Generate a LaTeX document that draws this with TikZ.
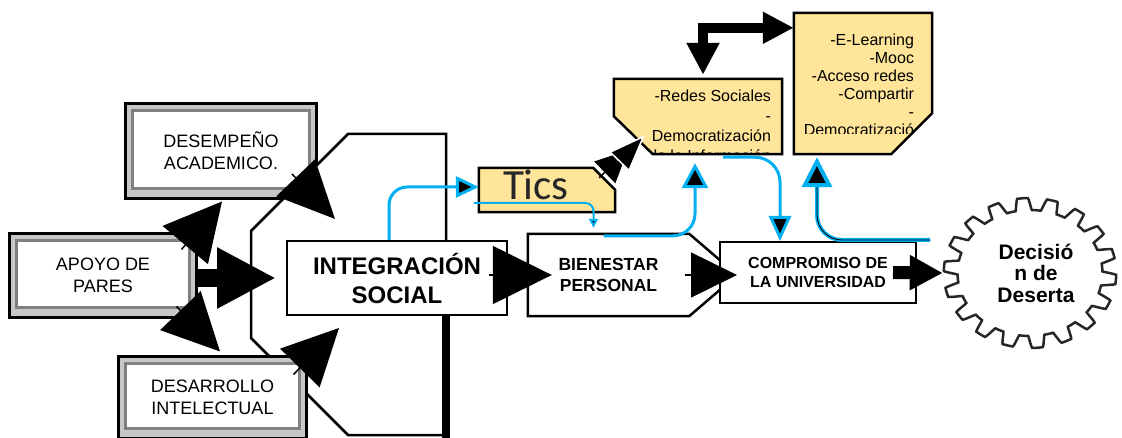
\documentclass[tikz,border=0pt]{standalone}
\usepackage{fontspec}
\setmainfont{Liberation Sans}
\newfontfamily\ticsfont{Carlito}
\usepackage{tikz}
\usetikzlibrary{arrows.meta}
\definecolor{notea}{RGB}{255,229,153}
\definecolor{flecha}{RGB}{0,176,240}
\tikzset{
	framed/.style={draw=black, line width=3pt, fill=black!22, inner sep=0pt, align=center,
		font=\fontsize{18}{22}\selectfont,
		path picture={\draw[black!50, line width=2.5pt, fill=white]
			([shift={(7pt,-7pt)}]path picture bounding box.north west) rectangle
			([shift={(-7pt,10pt)}]path picture bounding box.south east);}},
	plain/.style={draw=black, line width=2pt, fill=white, inner sep=0pt, align=center},
	nota/.style={line width=2.5pt, line join=miter},
	bigarrow/.style n args={3}{line width=#1, arrows={-Triangle[length=#2,width=#3]}},
	bluearrow/.style n args={3}{draw=flecha, line width=3pt, rounded corners=#1,
		arrows={-Triangle[length=#2,width=#3,fill=black]}},
}

\begin{document}
\begin{tikzpicture}[x=1pt, y=-1pt, declare function={gr(\t)=69+6*max(-1,min(1,2.5*sin(18*\t)));}]
	\useasboundingbox (0,0) rectangle (1122,438);
	\clip (0,0) rectangle (1122,438);
	% factores
	\node(DA)[framed, minimum width=191pt, minimum height=95pt] at (221,151) {DESEMPEÑO\\ACADEMICO.};
	\node(AP)[framed, minimum width=187pt, minimum height=84pt] at (103,275.5) {APOYO DE\\PARES};
	\draw[line width=2.5pt, fill=white, line join=miter] (348,134) -- (446,134) -- (446,435) -- (348,435) -- (251,338) -- (251,231) -- cycle;
	\node(DI)[framed, minimum width=188pt, minimum height=82pt] at (212.5,397.5) {DESARROLLO\\INTELECTUAL};
	\node(IS)[plain, minimum width=220pt, minimum height=74pt, font=\bfseries\fontsize{24}{29}\selectfont] at (397,278) {INTEGRACIÓN\\SOCIAL};
	\draw[line width=8pt] ([xshift=49pt]IS.south) -- ++(0,125);
	% centro
	\node(BP)[inner sep=0pt, minimum width=161pt, minimum height=82pt, align=center, font=\bfseries\fontsize{17.5}{20.5}\selectfont] at (608.5,275) {BIENESTAR\\PERSONAL};
	\draw[line width=2.5pt, line join=miter] (BP.north west) -- (BP.north east) -- ([xshift=48pt]BP.east) -- (BP.south east) -- (BP.south west) -- cycle;
	\node(CU)[plain, minimum width=196pt, minimum height=61pt, font=\bfseries\fontsize{16}{19}\selectfont] at (818,272.5) {COMPROMISO DE\\LA UNIVERSIDAD};
	% notas
	\node(TI)[minimum width=136pt, minimum height=44pt] at (547,190) {};
	\draw[nota, fill=notea, draw=black] (TI.north west) -- ([xshift=-22pt]TI.north east) -- ([yshift=-22pt]TI.north east) -- (TI.south east) -- (TI.south west) -- cycle;
	\node(TItxt)[anchor=base west, inner sep=0pt, text=black!85, font=\ticsfont\fontsize{43}{43}\selectfont] at ([shift={(24pt,-10pt)}]TI.west) {Tics};
	\node(RS)[minimum width=168pt, minimum height=75pt] at (698,116.5) {};
	\fill[notea] (RS.north west) -- (RS.north east) -- (RS.south east) -- ([xshift=39pt]RS.south west) -- ([yshift=38pt]RS.south west) -- cycle;
	\begin{scope}
		\clip (RS.north west) -- (RS.north east) -- (RS.south east) -- ([xshift=39pt]RS.south west) -- ([yshift=38pt]RS.south west) -- cycle;
		\node(RStxt)[anchor=north east, inner sep=0pt, align=right, font=\fontsize{16}{20}\selectfont] at ([shift={(-11pt,-11.3pt)}]RS.north east) {-Redes Sociales\\-\\Democratización\\de la Información};
	\end{scope}
	\draw[nota] (RS.north west) -- (RS.north east) -- (RS.south east) -- ([xshift=39pt]RS.south west) -- ([yshift=38pt]RS.south west) -- cycle;
	\node(EL)[minimum width=138pt, minimum height=141pt] at (863,83.5) {};
	\fill[notea] (EL.north west) -- (EL.north east) -- ([yshift=41pt]EL.south east) -- ([xshift=-41pt]EL.south east) -- (EL.south west) -- cycle;
	\begin{scope}
		\clip ([shift={(1.3pt,-1.3pt)}]EL.north west) rectangle ([shift={(-16pt,21pt)}]EL.south east);
		\node(ELtxt)[anchor=north east, inner sep=0pt, align=right, font=\fontsize{16}{18}\selectfont] at ([shift={(-18pt,-21.3pt)}]EL.north east) {-E-Learning\\-Mooc\\-Acceso redes\\-Compartir\\-\\Democratizació};
	\end{scope}
	\draw[nota] (EL.north west) -- (EL.north east) -- ([yshift=41pt]EL.south east) -- ([xshift=-41pt]EL.south east) -- (EL.south west) -- cycle;
	% decision
	\node(DD)[inner sep=0pt, minimum width=172pt, minimum height=150pt, align=center, font=\bfseries\fontsize{21}{21.5}\selectfont] at (1036,273) {Decisió\\n de\\Deserta};
	\draw[black!85, line width=2.5pt, shift={([xshift=-6pt]DD.center)}] plot[variable=\t, domain=0:360, samples=721] ({1.15*gr(\t)*cos(\t)}, {gr(\t)*sin(\t)}) -- cycle;
	% flechas negras
	\draw[bigarrow={18pt}{59pt}{57pt}] (AP.east |- IS.west) -- ([xshift=-10pt]IS.west);
	\draw[bigarrow={1.5pt}{57pt}{59pt}] ([shift={(-16.5pt,-17.5pt)}]AP.north east) -- ([shift={(1pt,-1.5pt)}]DA.south);
	\draw[bigarrow={1.5pt}{57pt}{56pt}] ([shift={(-21.5pt,12.5pt)}]AP.south east) -- ([shift={(7.5pt,3.5pt)}]DI.north);
	\draw[bigarrow={1.5pt}{57pt}{53pt}] ([shift={(-26pt,26pt)}]DA.south east) -- ([shift={(49pt,21pt)}]IS.north west);
	\draw[bigarrow={1.5pt}{56pt}{55pt}] ([shift={(-14.5pt,-19.5pt)}]DI.north east) -- ([shift={(53pt,-12pt)}]IS.south west);
	\draw[bigarrow={1.5pt}{59pt}{58pt}] ([xshift=-19pt]IS.east |- BP.west) -- ([xshift=24pt]BP.west);
	\draw[bigarrow={1.5pt}{46pt}{45pt}] ([xshift=-4pt]BP.east) -- ([xshift=18pt]CU.west |- BP.east);
	\draw[bigarrow={13pt}{33pt}{33pt}] ([xshift=-24pt]CU.east) -- ([xshift=-7pt]DD.west);
	\draw[line width=1.5pt, arrows={-Triangle[length=32pt,width=30pt]}] ([shift={(-16pt,-10pt)}]TI.north east) -- ([shift={(14pt,4pt)}]RS.south west);
	\draw[line width=1.5pt, arrows={-Triangle[length=37pt,width=28pt,color=white,fill=black]}] ([shift={(-1pt,1pt)}]TI.north east) -- ([shift={(31pt,19pt)}]RS.south west);
	\draw[line width=10pt, line join=miter, arrows={Triangle[length=32pt,width=31pt]-Triangle[length=31pt,width=30pt]}] ([shift={(5pt,4pt)}]RS.north) |- ([yshift=-15pt]EL.north west);
	% flechas azules
	\draw[bluearrow={18pt}{23pt}{21pt}] ([xshift=-8pt]IS.north) |- ([yshift=3pt]TI.west);
	\draw[bluearrow={8pt}{9pt}{9pt}, line width=2pt] ([shift={(-5pt,-13pt)}]TI.west) -| ([shift={(-15pt,6pt)}]BP.north);
	\draw[bluearrow={22pt}{25pt}{26pt}] ([shift={(-5pt,-2pt)}]BP.north) -| ([shift={(-3pt,-9pt)}]RS.south);
	\draw[bluearrow={25pt}{25pt}{22pt}] ([shift={(25pt,-3pt)}]RS.south) -| ([xshift=-38pt]CU.north);
	\draw[bluearrow={25pt}{30pt}{30pt}, line width=4pt] ([shift={(-106pt,33pt)}]DD.center) -| ([shift={(-46pt,-3pt)}]EL.south);
	\draw[line width=0.8pt, rounded corners=25pt, shorten >=30pt] ([shift={(-106pt,33pt)}]DD.center) -| ([shift={(-46pt,-3pt)}]EL.south);
\end{tikzpicture}
\end{document}
